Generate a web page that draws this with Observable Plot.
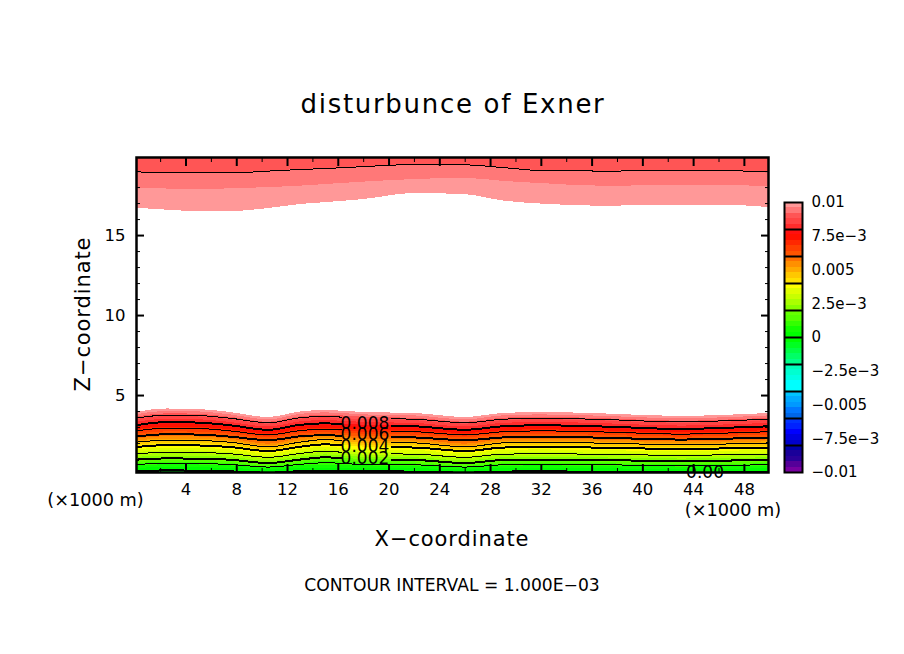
<!DOCTYPE html>
<html lang="en">
<head>
    <meta charset="UTF-8">
    <script src="https://cdn.jsdelivr.net/npm/d3@7"></script>
    <script src="https://cdn.jsdelivr.net/npm/@observablehq/plot@0.6"></script>
    <title>disturbunce of Exner</title>
    <style>
        body { margin: 0; background: white; }
        #page { position: relative; width: 904px; height: 654px; overflow: hidden; font-family: "DejaVu Sans", sans-serif; color: black; }
        #page svg { position: absolute; left: 0; top: 0; }
        .note { position: absolute; white-space: nowrap; line-height: 1; transform: translate(-50%, -50%); }
    </style>
</head>
<body>
<div id="page">
    <div class="note" style="left:453px;top:104px;font-size:26px;letter-spacing:1.7px">disturbunce of Exner</div>
    <div class="note" style="left:452px;top:539px;font-size:21px;letter-spacing:0.9px">X−coordinate</div>
    <div class="note" style="left:83px;top:314px;font-size:21px;letter-spacing:0.9px;transform:translate(-50%,-50%) rotate(-90deg)">Z−coordinate</div>
    <div class="note" style="left:452px;top:586px;font-size:17.15px">CONTOUR INTERVAL = 1.000E−03</div>
    <div class="note" style="left:95.5px;top:501px;font-size:17.7px">(×1000 m)</div>
    <div class="note" style="left:733px;top:511px;font-size:17.7px">(×1000 m)</div>
</div>
<script>
// x stations in km
const xKm = [0, 2.5, 5, 7.5, 10.5, 13, 15, 18, 22, 26, 29, 32, 37, 43, 46, 50];

// upper layer, height in km of each shading edge
const topEdge1 = [16.72, 16.59, 16.5, 16.5, 16.69, 16.94, 17.06, 17.25, 17.63, 17.56, 17.16, 16.97, 16.83, 16.91, 16.91, 16.75];
const topEdge2 = [17.98, 17.91, 17.88, 17.92, 18, 18.09, 18.19, 18.34, 18.5, 18.58, 18.39, 18.25, 18.08, 18.13, 18.13, 18.06];
const topEdge3 = [18.98, 18.94, 18.92, 18.92, 19.03, 19.13, 19.19, 19.31, 19.44, 19.42, 19.25, 19.06, 19.03, 19.06, 19.06, 18.98];

// lower layer, height in km of the shading edges, 0.0004 apart
const edge00 = [.26, .32, .31, .26, .18, .27, .29, .26, .25, .18, .25, .26, .24, .2, .21, .25];
const edge01 = [.44, .5, .49, .44, .36, .45, .47, .44, .43, .36, .43, .44, .42, .38, .39, .43];
const edge02 = [.6, .67, .66, .6, .51, .61, .64, .6, .58, .51, .58, .6, .58, .53, .55, .58];
const edge03 = [.75, .82, .81, .75, .56, .76, .89, .75, .73, .56, .73, .75, .73, .68, .7, .73];
const edge04 = [.87, .95, .94, .87, .66, .88, 1.02, .87, .85, .66, .85, .87, .84, .79, .81, .85];
const edge05 = [.99, 1.07, 1.06, .99, .78, 1, 1.14, .99, .97, .78, .97, .99, .96, .91, .93, .97];
const edge06 = [1.13, 1.22, 1.21, 1.13, .91, 1.15, 1.29, 1.13, 1.11, .91, 1.11, 1.13, 1.1, 1.03, 1.06, 1.11];
const edge07 = [1.28, 1.37, 1.36, 1.28, 1.06, 1.3, 1.44, 1.28, 1.26, 1.06, 1.26, 1.28, 1.25, 1.18, 1.21, 1.26];
const edge08 = [1.43, 1.55, 1.53, 1.43, 1.18, 1.45, 1.6, 1.43, 1.4, 1.18, 1.4, 1.43, 1.39, 1.31, 1.34, 1.4];
const edge09 = [1.6, 1.72, 1.7, 1.6, 1.35, 1.62, 1.77, 1.6, 1.57, 1.35, 1.57, 1.6, 1.56, 1.48, 1.51, 1.57];
const edge10 = [1.78, 1.9, 1.88, 1.78, 1.53, 1.8, 1.95, 1.78, 1.75, 1.53, 1.75, 1.78, 1.74, 1.66, 1.69, 1.75];
const edge11 = [1.89, 2.02, 2, 1.89, 1.6, 1.9, 2.06, 1.89, 1.85, 1.6, 1.85, 1.89, 1.83, 1.74, 1.77, 1.85];
const edge12 = [2.02, 2.15, 2.13, 2.02, 1.73, 2.03, 2.19, 2.02, 1.98, 1.73, 1.98, 2.02, 1.96, 1.87, 1.9, 1.98];
const edge13 = [2.15, 2.28, 2.26, 2.15, 1.86, 2.16, 2.32, 2.15, 2.11, 1.86, 2.11, 2.15, 2.09, 2, 2.03, 2.11];
const edge14 = [2.28, 2.43, 2.41, 2.28, 1.96, 2.3, 2.47, 2.28, 2.23, 1.96, 2.23, 2.28, 2.21, 2.1, 2.14, 2.23];
const edge15 = [2.43, 2.58, 2.56, 2.43, 2.21, 2.45, 2.52, 2.43, 2.38, 2.21, 2.38, 2.43, 2.36, 2.25, 2.29, 2.38];
const edge16 = [2.58, 2.73, 2.71, 2.58, 2.36, 2.6, 2.67, 2.58, 2.53, 2.36, 2.53, 2.58, 2.51, 2.4, 2.44, 2.53];
const edge17 = [2.71, 2.88, 2.86, 2.71, 2.46, 2.73, 2.81, 2.71, 2.66, 2.46, 2.66, 2.71, 2.64, 2.51, 2.56, 2.66];
const edge18 = [2.86, 3.03, 3.01, 2.86, 2.61, 2.88, 2.96, 2.86, 2.81, 2.61, 2.81, 2.86, 2.79, 2.66, 2.71, 2.81];
const edge19 = [3.01, 3.18, 3.16, 3.01, 2.76, 3.03, 3.11, 3.01, 2.96, 2.76, 2.96, 3.01, 2.94, 2.81, 2.86, 2.96];
const edge20 = [3.14, 3.34, 3.31, 3.14, 2.86, 3.17, 3.26, 3.14, 3.08, 2.86, 3.08, 3.14, 3.06, 2.91, 2.97, 3.08];
const edge21 = [3.32, 3.52, 3.49, 3.32, 3.04, 3.35, 3.44, 3.32, 3.26, 3.04, 3.26, 3.32, 3.24, 3.09, 3.15, 3.26];
const edge22 = [3.49, 3.69, 3.66, 3.49, 3.21, 3.52, 3.61, 3.49, 3.43, 3.21, 3.43, 3.49, 3.41, 3.26, 3.32, 3.43];
const edge23 = [3.64, 3.86, 3.83, 3.64, 3.33, 3.67, 3.77, 3.64, 3.58, 3.33, 3.58, 3.64, 3.55, 3.39, 3.45, 3.58];
const edge24 = [3.79, 4.01, 3.98, 3.79, 3.48, 3.82, 3.92, 3.79, 3.73, 3.48, 3.73, 3.79, 3.7, 3.54, 3.6, 3.73];
const edge25 = [3.94, 4.16, 4.13, 3.94, 3.63, 3.97, 4.07, 3.94, 3.88, 3.63, 3.88, 3.94, 3.85, 3.69, 3.75, 3.88];

// contour levels that do not fall on a shading edge
const line1 = [.69, .76, .75, .69, .53, .7, .8, .69, .67, .53, .67, .69, .67, .62, .64, .67];
const line3 = [1.36, 1.45, 1.44, 1.36, 1.14, 1.38, 1.52, 1.36, 1.34, 1.14, 1.34, 1.36, 1.33, 1.26, 1.29, 1.34];
const line5 = [2.08, 2.21, 2.19, 2.08, 1.79, 2.09, 2.25, 2.08, 2.04, 1.79, 2.04, 2.08, 2.02, 1.93, 1.96, 2.04];
const line7 = [2.79, 2.96, 2.94, 2.79, 2.54, 2.81, 2.89, 2.79, 2.74, 2.54, 2.74, 2.79, 2.72, 2.59, 2.64, 2.74];
const line9 = [3.58, 3.78, 3.75, 3.58, 3.3, 3.61, 3.7, 3.58, 3.52, 3.3, 3.52, 3.58, 3.5, 3.35, 3.41, 3.52];

const lowerEdges = [edge00, edge01, edge02, edge03, edge04, edge05, edge06, edge07, edge08, edge09, edge10, edge11, edge12,
    edge13, edge14, edge15, edge16, edge17, edge18, edge19, edge20, edge21, edge22, edge23, edge24, edge25];

// colours from the bottom of the colour bar to the top, one per 0.0004
const barColors = [
    "#7700a0", "#550099", "#2a0099", "#1a0099", "#0000aa",
    "#0000cc", "#0000e0", "#0000ff", "#0022ff", "#0033ff",
    "#0066e8", "#0077ff", "#0099ff", "#00aaff", "#00c4ff",
    "#00ffff", "#00ffff", "#00ffe4", "#00ffd0", "#00ffbb",
    "#00ff88", "#00ff66", "#00ff44", "#00ff22", "#00ff00",
    "#00ff00", "#11ff00", "#33ff00", "#55ff00", "#66ff00",
    "#88ff00", "#aaff00", "#c8ff00", "#e0ff00", "#ffff00",
    "#ffe000", "#ffc800", "#ffaa00", "#ff9000", "#ff7000",
    "#ff5500", "#ff4000", "#ff2800", "#ff1000", "#ff1010",
    "#ff2c2c", "#ff4444", "#ff5555", "#ff7878", "#ff9898"
];
const barTicks = [-0.01, -0.0075, -0.005, -0.0025, 0, 0.0025, 0.005, 0.0075, 0.01];
const barLabels = ["−0.01", "−7.5e−3", "−0.005", "−2.5e−3", "0", "2.5e−3", "0.005", "7.5e−3", "0.01"];
const barLines = [-0.008, -0.006, -0.004, -0.002, 0, 0.002, 0.004, 0.006, 0.008];

const lineLabels = ["0.008", "0.006", "0.004", "0.002", "0.00"];
const lineLabelX = [18.1, 18.1, 18.1, 18.1, 44.9];
const lineLabelZ = [3.25, 2.55, 1.8, 1.06, 0.19];

const xMajor = [4, 8, 12, 16, 20, 24, 28, 32, 36, 40, 44, 48];
const xMinor = [2, 6, 10, 14, 18, 22, 26, 30, 34, 38, 42, 46];
const zMajor = [5, 10, 15];
const zMinor = [1, 2, 3, 4, 6, 7, 8, 9, 11, 12, 13, 14, 16, 17, 18, 19];

const zMin = 0.19;
const zMax = 19.88;

// label gaps in the contour lines, the cut ends are placed on the segment they cut
function cutLine(zs, gaps) {
    let rows = xKm.map((x, i) => ({x: x, z: zs[i]}));
    for (const [a, b] of gaps) {
        const at = (x) => {
            const j = d3.bisectRight(xKm, x);
            const t = (x - xKm[j - 1]) / (xKm[j] - xKm[j - 1]);
            return zs[j - 1] + t * (zs[j] - zs[j - 1]);
        };
        rows = rows.filter((d) => d.x < a || d.x > b);
        rows.push({x: a, z: at(a)}, {x: (a + b) / 2, z: null}, {x: b, z: at(b)});
        rows.sort((p, q) => p.x - q.x);
    }
    return rows;
}

const crisp = {shapeRendering: "crispEdges", clip: true, curve: "monotone-x"};

function layer(edge, top, color) {
    // painted from the top down, each colour runs down to the next edge
    return Plot.areaY(xKm, {x: (d) => d, y1: (d, i) => edge[i], y2: top, fill: color, ...crisp});
}

const marks = [];
marks.push(layer(topEdge1, zMax, "#ff9898"));
marks.push(layer(topEdge2, zMax, "#ff7878"));
marks.push(layer(topEdge3, zMax, "#ff5555"));
for (let k = 25; k >= 1; k--) {
    marks.push(layer(lowerEdges[k], zMin, barColors[24 + k]));
}
marks.push(layer(edge00, zMin, "#00ff22"));

const labelGap = [[16.25, 20.2]];
const contours = [
    {zs: edge00, w: 2, gaps: [[43.4, 46.4]]},
    {zs: line1, w: 1, gaps: []},
    {zs: edge05, w: 2, gaps: labelGap},
    {zs: line3, w: 1, gaps: labelGap},
    {zs: edge10, w: 2, gaps: labelGap},
    {zs: line5, w: 1, gaps: labelGap},
    {zs: edge15, w: 2, gaps: labelGap},
    {zs: line7, w: 1, gaps: labelGap},
    {zs: edge20, w: 2, gaps: labelGap},
    {zs: line9, w: 1, gaps: labelGap}
];
for (const c of contours) {
    marks.push(Plot.line(cutLine(c.zs, c.gaps), {x: "x", y: "z", stroke: "black", strokeWidth: c.w, ...crisp}));
}
marks.push(Plot.line(xKm, {x: (d) => d, y: (d, i) => topEdge3[i], stroke: "black", strokeWidth: 1, ...crisp}));

marks.push(Plot.text(lineLabels, {
    x: (d, i) => lineLabelX[i],
    y: (d, i) => lineLabelZ[i],
    text: (d) => d,
    fontSize: 17,
    fill: "black"
}));

const blank = () => "";
marks.push(
    Plot.axisX(xMajor, {anchor: "bottom", tickSize: -8, tickPadding: 19, strokeWidth: 2, fontSize: 16.5, label: null, tickFormat: (d) => `${d}`}),
    Plot.axisX(xMinor, {anchor: "bottom", tickSize: -4, strokeWidth: 1, label: null, tickFormat: blank}),
    Plot.axisX(xMajor, {anchor: "top", tickSize: -8, strokeWidth: 2, label: null, tickFormat: blank}),
    Plot.axisX(xMinor, {anchor: "top", tickSize: -4, strokeWidth: 1, label: null, tickFormat: blank}),
    Plot.axisY(zMajor, {anchor: "left", tickSize: -8, tickPadding: 19, strokeWidth: 2, fontSize: 16.5, label: null, tickFormat: (d) => `${d}`}),
    Plot.axisY(zMinor, {anchor: "left", tickSize: -4, strokeWidth: 1, label: null, tickFormat: blank}),
    Plot.axisY(zMajor, {anchor: "right", tickSize: -8, strokeWidth: 2, label: null, tickFormat: blank}),
    Plot.axisY(zMinor, {anchor: "right", tickSize: -4, strokeWidth: 1, label: null, tickFormat: blank}),
    Plot.frame({stroke: "black", strokeWidth: 2.5})
);

const plot = Plot.plot({
    width: 904,
    height: 654,
    marginLeft: 136,
    marginRight: 136,
    marginTop: 157,
    marginBottom: 182,
    x: {domain: [0.1, 49.9]},
    y: {domain: [zMin, zMax]},
    style: {fontFamily: "DejaVu Sans", color: "black", background: "transparent"},
    marks: marks
});
document.getElementById("page").append(plot);

// colour bar
const barStep = 0.0004;
const barLabelOf = new Map(barTicks.map((t, i) => [t, barLabels[i]]));
const bar = Plot.plot({
    width: 904,
    height: 654,
    marginLeft: 784,
    marginRight: 102,
    marginTop: 202,
    marginBottom: 182,
    x: {domain: [0, 1], axis: null},
    y: {domain: [-0.01, 0.01]},
    style: {fontFamily: "DejaVu Sans", color: "black", background: "transparent"},
    marks: [
        Plot.rect(barColors, {
            x1: 0,
            x2: 1,
            y1: (d, i) => -0.01 + i * barStep,
            y2: (d, i) => -0.01 + (i + 1) * barStep,
            fill: (d) => d,
            shapeRendering: "crispEdges"
        }),
        Plot.ruleY(barLines, {stroke: "black", strokeWidth: 2}),
        Plot.axisY(barTicks, {anchor: "right", tickSize: 0, tickPadding: 9, fontSize: 15, label: null, tickFormat: (d) => barLabelOf.get(d)}),
        Plot.frame({stroke: "black", strokeWidth: 2})
    ]
});
document.getElementById("page").append(bar);
</script>
</body>
</html>
